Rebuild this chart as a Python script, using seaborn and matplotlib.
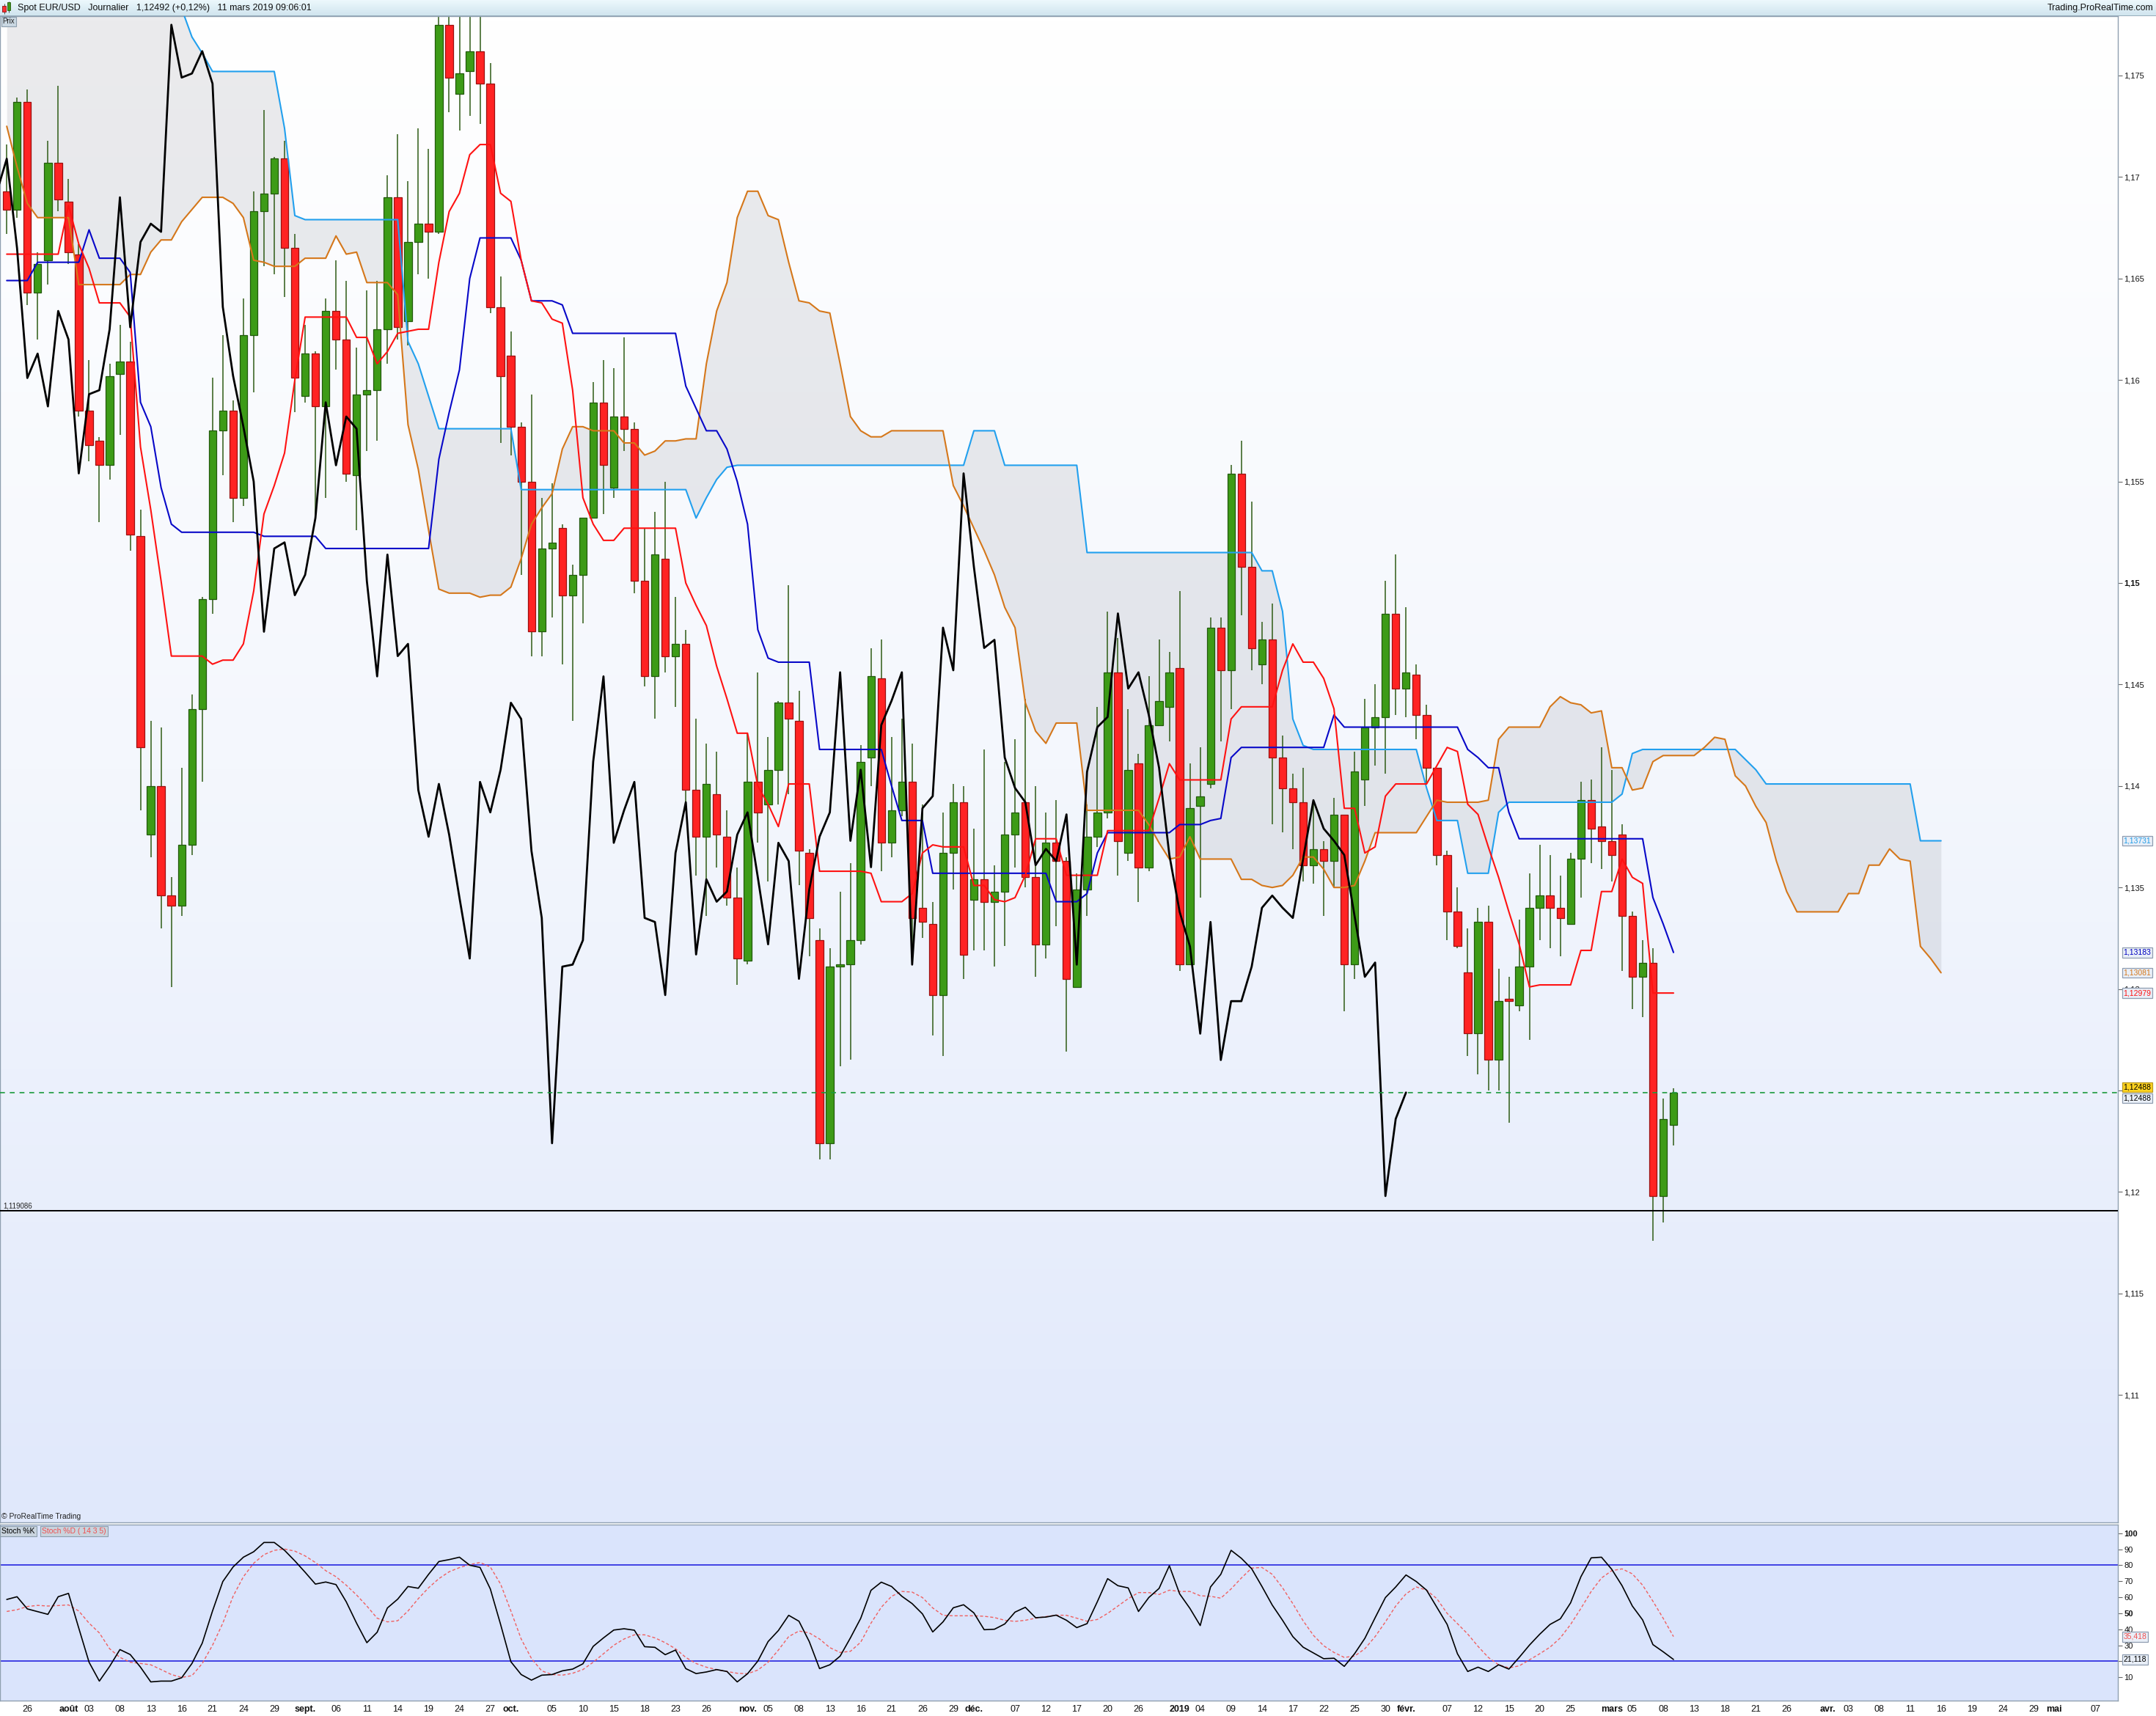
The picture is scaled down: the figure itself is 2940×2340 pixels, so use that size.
import numpy as np
import pandas as pd
import matplotlib
matplotlib.use('Agg')
import matplotlib.pyplot as plt
from matplotlib.colors import LinearSegmentedColormap
from matplotlib.transforms import blended_transform_factory
from matplotlib.patches import Rectangle
import seaborn as sns

sns.set_style('white')
plt.rcParams['font.family'] = ['Liberation Sans', 'DejaVu Sans']
plt.rcParams['axes.unicode_minus'] = False
NARROW = ['Liberation Sans Narrow', 'Liberation Sans', 'DejaVu Sans']

# ---------------- data (EUR/USD daily, 24 juil. 2018 -> 11 mars 2019) ----------------
opens = [
    1.1693, 1.1684, 1.1737, 1.1643, 1.1659, 1.1707, 1.1688, 1.1662, 1.1585, 1.1570,
    1.1558, 1.1603, 1.1609, 1.1523, 1.1376, 1.1400, 1.1346, 1.1341, 1.1371, 1.1438,
    1.1492, 1.1575, 1.1585, 1.1542, 1.1622, 1.1683, 1.1692, 1.1709, 1.1665, 1.1592,
    1.1613, 1.1587, 1.1634, 1.1620, 1.1553, 1.1593, 1.1595, 1.1625, 1.1690, 1.1629,
    1.1668, 1.1677, 1.1673, 1.1775, 1.1741, 1.1752, 1.1762, 1.1746, 1.1636, 1.1612,
    1.1577, 1.1550, 1.1476, 1.1517, 1.1527, 1.1494, 1.1504, 1.1532, 1.1589, 1.1547,
    1.1582, 1.1576, 1.1501, 1.1454, 1.1512, 1.1464, 1.1470, 1.1398, 1.1375, 1.1396,
    1.1375, 1.1345, 1.1314, 1.1402, 1.1391, 1.1408, 1.1441, 1.1432, 1.1367, 1.1324,
    1.1224, 1.1311, 1.1312, 1.1324, 1.1414, 1.1453, 1.1372, 1.1388, 1.1402, 1.1340,
    1.1332, 1.1297, 1.1367, 1.1392, 1.1344, 1.1354, 1.1343, 1.1348, 1.1376, 1.1392,
    1.1355, 1.1322, 1.1372, 1.1363, 1.1301, 1.1349, 1.1375, 1.1387, 1.1456, 1.1367,
    1.1411, 1.1360, 1.1430, 1.1439, 1.1458, 1.1312, 1.1390, 1.1401, 1.1478, 1.1457,
    1.1554, 1.1508, 1.1460, 1.1472, 1.1414, 1.1399, 1.1392, 1.1361, 1.1369, 1.1363,
    1.1386, 1.1312, 1.1403, 1.1429, 1.1434, 1.1485, 1.1448, 1.1455, 1.1435, 1.1409,
    1.1366, 1.1338, 1.1308, 1.1278, 1.1333, 1.1265, 1.1295, 1.1292, 1.1311, 1.1340,
    1.1346, 1.1340, 1.1332, 1.1364, 1.1393, 1.1380, 1.1373, 1.1376, 1.1336, 1.1306,
    1.1313, 1.1198, 1.1233]
highs = [
    1.1716, 1.1739, 1.1743, 1.1663, 1.1718, 1.1745, 1.1699, 1.1667, 1.1610, 1.1572,
    1.1608, 1.1627, 1.1619, 1.1536, 1.1432, 1.1429, 1.1355, 1.1409, 1.1445, 1.1493,
    1.1601, 1.1622, 1.1590, 1.1640, 1.1693, 1.1733, 1.1710, 1.1718, 1.1672, 1.1627,
    1.1614, 1.1640, 1.1659, 1.1649, 1.1616, 1.1644, 1.1649, 1.1701, 1.1721, 1.1698,
    1.1724, 1.1714, 1.1791, 1.1788, 1.1815, 1.1797, 1.1795, 1.1756, 1.1651, 1.1624,
    1.1579, 1.1593, 1.1542, 1.1549, 1.1529, 1.1509, 1.1532, 1.1599, 1.1610, 1.1606,
    1.1621, 1.1579, 1.1527, 1.1535, 1.1550, 1.1493, 1.1477, 1.1433, 1.1421, 1.1417,
    1.1388, 1.1360, 1.1426, 1.1456, 1.1424, 1.1442, 1.1499, 1.1447, 1.1369, 1.1330,
    1.1320, 1.1348, 1.1362, 1.1420, 1.1468, 1.1472, 1.1424, 1.1433, 1.1421, 1.1391,
    1.1343, 1.1387, 1.1401, 1.1400, 1.1379, 1.1418, 1.1361, 1.1412, 1.1423, 1.1443,
    1.1400, 1.1387, 1.1393, 1.1365, 1.1357, 1.1391, 1.1439, 1.1486, 1.1473, 1.1438,
    1.1416, 1.1454, 1.1472, 1.1466, 1.1496, 1.1411, 1.1419, 1.1483, 1.1483, 1.1558,
    1.1570, 1.1540, 1.1481, 1.1490, 1.1425, 1.1406, 1.1409, 1.1393, 1.1373, 1.1394,
    1.1386, 1.1417, 1.1443, 1.1450, 1.1501, 1.1514, 1.1488, 1.1460, 1.1440, 1.1409,
    1.1368, 1.1350, 1.1330, 1.1340, 1.1341, 1.1310, 1.1306, 1.1334, 1.1357, 1.1371,
    1.1366, 1.1356, 1.1367, 1.1402, 1.1403, 1.1419, 1.1408, 1.1381, 1.1338, 1.1324,
    1.1320, 1.1246, 1.1251]
lows = [
    1.1672, 1.1680, 1.1637, 1.1620, 1.1647, 1.1683, 1.1657, 1.1582, 1.1560, 1.1530,
    1.1551, 1.1573, 1.1516, 1.1388, 1.1365, 1.1330, 1.1301, 1.1336, 1.1366, 1.1402,
    1.1485, 1.1553, 1.1530, 1.1538, 1.1594, 1.1656, 1.1652, 1.1641, 1.1584, 1.1589,
    1.1532, 1.1542, 1.1605, 1.1550, 1.1526, 1.1565, 1.1570, 1.1608, 1.1620, 1.1617,
    1.1652, 1.1650, 1.1672, 1.1732, 1.1723, 1.1730, 1.1726, 1.1633, 1.1569, 1.1563,
    1.1504, 1.1464, 1.1464, 1.1483, 1.1460, 1.1432, 1.1480, 1.1532, 1.1534, 1.1542,
    1.1565, 1.1495, 1.1449, 1.1433, 1.1456, 1.1439, 1.1391, 1.1356, 1.1336, 1.1360,
    1.1341, 1.1302, 1.1312, 1.1372, 1.1353, 1.1391, 1.1396, 1.1351, 1.1316, 1.1216,
    1.1216, 1.1262, 1.1265, 1.1322, 1.1400, 1.1358, 1.1365, 1.1385, 1.1312, 1.1325,
    1.1277, 1.1267, 1.1349, 1.1305, 1.1319, 1.1319, 1.1311, 1.1321, 1.1360, 1.1350,
    1.1306, 1.1315, 1.1331, 1.1269, 1.1301, 1.1336, 1.1370, 1.1384, 1.1356, 1.1363,
    1.1343, 1.1358, 1.1430, 1.1422, 1.1309, 1.1312, 1.1345, 1.1399, 1.1422, 1.1438,
    1.1484, 1.1457, 1.1450, 1.1381, 1.1377, 1.1369, 1.1353, 1.1352, 1.1336, 1.1350,
    1.1289, 1.1305, 1.1390, 1.1410, 1.1406, 1.1435, 1.1434, 1.1423, 1.1401, 1.1361,
    1.1324, 1.1320, 1.1267, 1.1258, 1.1250, 1.1250, 1.1234, 1.1289, 1.1275, 1.1324,
    1.1320, 1.1316, 1.1332, 1.1345, 1.1362, 1.1359, 1.1353, 1.1309, 1.1290, 1.1286,
    1.1176, 1.1185, 1.1223]
closes = [
    1.1684, 1.1737, 1.1643, 1.1657, 1.1707, 1.1689, 1.1663, 1.1585, 1.1568, 1.1558,
    1.1602, 1.1609, 1.1524, 1.1419, 1.1400, 1.1346, 1.1341, 1.1371, 1.1438, 1.1492,
    1.1575, 1.1585, 1.1542, 1.1622, 1.1683, 1.1692, 1.1709, 1.1665, 1.1601, 1.1613,
    1.1587, 1.1634, 1.1620, 1.1554, 1.1593, 1.1595, 1.1625, 1.1690, 1.1626, 1.1668,
    1.1677, 1.1673, 1.1775, 1.1749, 1.1751, 1.1762, 1.1746, 1.1636, 1.1602, 1.1577,
    1.1550, 1.1476, 1.1517, 1.1520, 1.1494, 1.1504, 1.1532, 1.1589, 1.1558, 1.1582,
    1.1576, 1.1501, 1.1454, 1.1514, 1.1464, 1.1470, 1.1398, 1.1375, 1.1401, 1.1376,
    1.1345, 1.1315, 1.1402, 1.1387, 1.1408, 1.1441, 1.1433, 1.1368, 1.1335, 1.1224,
    1.1311, 1.1312, 1.1324, 1.1412, 1.1454, 1.1372, 1.1388, 1.1402, 1.1335, 1.1333,
    1.1297, 1.1367, 1.1392, 1.1317, 1.1354, 1.1343, 1.1348, 1.1376, 1.1387, 1.1355,
    1.1322, 1.1372, 1.1363, 1.1305, 1.1349, 1.1375, 1.1387, 1.1456, 1.1373, 1.1408,
    1.1360, 1.1430, 1.1442, 1.1456, 1.1312, 1.1389, 1.1395, 1.1478, 1.1457, 1.1554,
    1.1508, 1.1468, 1.1472, 1.1414, 1.1399, 1.1392, 1.1361, 1.1369, 1.1363, 1.1386,
    1.1312, 1.1407, 1.1429, 1.1434, 1.1485, 1.1448, 1.1456, 1.1435, 1.1409, 1.1366,
    1.1338, 1.1321, 1.1278, 1.1333, 1.1265, 1.1294, 1.1294, 1.1311, 1.1340, 1.1346,
    1.1340, 1.1335, 1.1364, 1.1393, 1.1379, 1.1373, 1.1366, 1.1336, 1.1306, 1.1313,
    1.1198, 1.1236, 1.1249]

tenkan = [
    1.1662, 1.1662, 1.1662, 1.1662, 1.1662, 1.1662, 1.1686, 1.1667, 1.1655, 1.1638,
    1.1638, 1.1638, 1.1631, 1.1567, 1.1536, 1.1501, 1.1464, 1.1464, 1.1464, 1.1464,
    1.1460, 1.1462, 1.1462, 1.1470, 1.1496, 1.1534, 1.1548, 1.1564, 1.1600, 1.1631,
    1.1631, 1.1631, 1.1631, 1.1631, 1.1621, 1.1621, 1.1608, 1.1614, 1.1623, 1.1624,
    1.1625, 1.1625, 1.1658, 1.1683, 1.1692, 1.1711, 1.1716, 1.1716, 1.1692, 1.1688,
    1.1659, 1.1639, 1.1638, 1.1630, 1.1628, 1.1595, 1.1542, 1.1529, 1.1521, 1.1521,
    1.1527, 1.1527, 1.1527, 1.1527, 1.1527, 1.1527, 1.1500, 1.1489, 1.1479, 1.1459,
    1.1443, 1.1426, 1.1426, 1.1400, 1.1391, 1.1380, 1.1401, 1.1401, 1.1401, 1.1358,
    1.1358, 1.1358, 1.1358, 1.1358, 1.1357, 1.1343, 1.1343, 1.1343, 1.1347, 1.1367,
    1.1371, 1.1370, 1.1370, 1.1370, 1.1351, 1.1351, 1.1344, 1.1343, 1.1345, 1.1356,
    1.1374, 1.1374, 1.1374, 1.1356, 1.1356, 1.1356, 1.1356, 1.1378, 1.1378, 1.1378,
    1.1378, 1.1378, 1.1394, 1.1411, 1.1403, 1.1403, 1.1403, 1.1403, 1.1403, 1.1433,
    1.1439, 1.1439, 1.1439, 1.1439, 1.1457, 1.1470, 1.1461, 1.1461, 1.1453, 1.1438,
    1.1389, 1.1389, 1.1367, 1.1370, 1.1395, 1.1401, 1.1401, 1.1401, 1.1401, 1.1410,
    1.1419, 1.1417, 1.1391, 1.1386, 1.1370, 1.1355, 1.1338, 1.1322, 1.1301, 1.1302,
    1.1302, 1.1302, 1.1302, 1.1319, 1.1319, 1.1348, 1.1348, 1.1364, 1.1355, 1.1352,
    1.1298, 1.1298, 1.1298]
kijun = [
    1.1649, 1.1649, 1.1649, 1.1658, 1.1658, 1.1658, 1.1658, 1.1658, 1.1674, 1.1660,
    1.1660, 1.1660, 1.1653, 1.1589, 1.1577, 1.1547, 1.1529, 1.1525, 1.1525, 1.1525,
    1.1525, 1.1525, 1.1525, 1.1525, 1.1525, 1.1523, 1.1523, 1.1523, 1.1523, 1.1523,
    1.1523, 1.1517, 1.1517, 1.1517, 1.1517, 1.1517, 1.1517, 1.1517, 1.1517, 1.1517,
    1.1517, 1.1517, 1.1561, 1.1584, 1.1605, 1.1650, 1.1670, 1.1670, 1.1670, 1.1670,
    1.1659, 1.1639, 1.1639, 1.1639, 1.1637, 1.1623, 1.1623, 1.1623, 1.1623, 1.1623,
    1.1623, 1.1623, 1.1623, 1.1623, 1.1623, 1.1623, 1.1597, 1.1586, 1.1575, 1.1575,
    1.1566, 1.1550, 1.1529, 1.1477, 1.1463, 1.1461, 1.1461, 1.1461, 1.1461, 1.1418,
    1.1418, 1.1418, 1.1418, 1.1418, 1.1418, 1.1418, 1.1400, 1.1383, 1.1383, 1.1383,
    1.1357, 1.1357, 1.1357, 1.1357, 1.1357, 1.1357, 1.1357, 1.1357, 1.1357, 1.1357,
    1.1357, 1.1357, 1.1343, 1.1343, 1.1343, 1.1347, 1.1367, 1.1377, 1.1377, 1.1377,
    1.1377, 1.1377, 1.1377, 1.1377, 1.1381, 1.1381, 1.1381, 1.1383, 1.1384, 1.1414,
    1.1419, 1.1419, 1.1419, 1.1419, 1.1419, 1.1419, 1.1419, 1.1419, 1.1419, 1.1435,
    1.1429, 1.1429, 1.1429, 1.1429, 1.1429, 1.1429, 1.1429, 1.1429, 1.1429, 1.1429,
    1.1429, 1.1429, 1.1418, 1.1414, 1.1409, 1.1409, 1.1387, 1.1374, 1.1374, 1.1374,
    1.1374, 1.1374, 1.1374, 1.1374, 1.1374, 1.1374, 1.1374, 1.1374, 1.1374, 1.1374,
    1.1345, 1.1332, 1.1318]
# nuage : 26 barres de plus que les bougies
senkou_a = [
    1.1725, 1.1705, 1.1687, 1.1680, 1.1680, 1.1680, 1.1680, 1.1647, 1.1647, 1.1647,
    1.1647, 1.1647, 1.1652, 1.1652, 1.1663, 1.1669, 1.1669, 1.1678, 1.1684, 1.1690,
    1.1690, 1.1690, 1.1687, 1.1680, 1.1659, 1.1658, 1.1656, 1.1656, 1.1656, 1.1660,
    1.1660, 1.1660, 1.1671, 1.1662, 1.1663, 1.1648, 1.1648, 1.1648, 1.1642, 1.1578,
    1.1556, 1.1526, 1.1497, 1.1495, 1.1495, 1.1495, 1.1493, 1.1494, 1.1494, 1.1498,
    1.1512, 1.1529, 1.1537, 1.1544, 1.1566, 1.1577, 1.1577, 1.1575, 1.1575, 1.1575,
    1.1569, 1.1569, 1.1563, 1.1565, 1.1570, 1.1570, 1.1571, 1.1571, 1.1608, 1.1634,
    1.1648, 1.1680, 1.1693, 1.1693, 1.1681, 1.1679, 1.1658, 1.1639, 1.1638, 1.1634,
    1.1633, 1.1608, 1.1582, 1.1575, 1.1572, 1.1572, 1.1575, 1.1575, 1.1575, 1.1575,
    1.1575, 1.1575, 1.1548, 1.1538, 1.1527, 1.1516, 1.1504, 1.1488, 1.1478, 1.1441,
    1.1427, 1.1421, 1.1431, 1.1431, 1.1431, 1.1388, 1.1388, 1.1388, 1.1388, 1.1388,
    1.1388, 1.1381, 1.1372, 1.1364, 1.1365, 1.1375, 1.1364, 1.1364, 1.1364, 1.1364,
    1.1354, 1.1354, 1.1351, 1.1350, 1.1351, 1.1356, 1.1365, 1.1365, 1.1359, 1.1350,
    1.1350, 1.1351, 1.1363, 1.1377, 1.1377, 1.1377, 1.1377, 1.1377, 1.1385, 1.1393,
    1.1392, 1.1392, 1.1392, 1.1392, 1.1393, 1.1423, 1.1429, 1.1429, 1.1429, 1.1429,
    1.1439, 1.1444, 1.1441, 1.1440, 1.1436, 1.1437, 1.1409, 1.1409, 1.1398, 1.1399,
    1.1412, 1.1415, 1.1415, 1.1415, 1.1415, 1.1419, 1.1424, 1.1423, 1.1405, 1.1400,
    1.1390, 1.1382, 1.1363, 1.1348, 1.1338, 1.1338, 1.1338, 1.1338, 1.1338, 1.1347,
    1.1347, 1.1361, 1.1361, 1.1369, 1.1364, 1.1363, 1.1321, 1.1315, 1.1308]
senkou_b = [
    1.1800, 1.1800, 1.1800, 1.1800, 1.1800, 1.1800, 1.1800, 1.1800, 1.1800, 1.1800,
    1.1800, 1.1800, 1.1800, 1.1800, 1.1800, 1.1800, 1.1792, 1.1783, 1.1769, 1.1761,
    1.1752, 1.1752, 1.1752, 1.1752, 1.1752, 1.1752, 1.1752, 1.1724, 1.1681, 1.1679,
    1.1679, 1.1679, 1.1679, 1.1679, 1.1679, 1.1679, 1.1679, 1.1679, 1.1679, 1.1619,
    1.1608, 1.1592, 1.1576, 1.1576, 1.1576, 1.1576, 1.1576, 1.1576, 1.1576, 1.1576,
    1.1546, 1.1546, 1.1546, 1.1546, 1.1546, 1.1546, 1.1546, 1.1546, 1.1546, 1.1546,
    1.1546, 1.1546, 1.1546, 1.1546, 1.1546, 1.1546, 1.1546, 1.1532, 1.1542, 1.1551,
    1.1557, 1.1558, 1.1558, 1.1558, 1.1558, 1.1558, 1.1558, 1.1558, 1.1558, 1.1558,
    1.1558, 1.1558, 1.1558, 1.1558, 1.1558, 1.1558, 1.1558, 1.1558, 1.1558, 1.1558,
    1.1558, 1.1558, 1.1558, 1.1558, 1.1575, 1.1575, 1.1575, 1.1558, 1.1558, 1.1558,
    1.1558, 1.1558, 1.1558, 1.1558, 1.1558, 1.1515, 1.1515, 1.1515, 1.1515, 1.1515,
    1.1515, 1.1515, 1.1515, 1.1515, 1.1515, 1.1515, 1.1515, 1.1515, 1.1515, 1.1515,
    1.1515, 1.1515, 1.1506, 1.1506, 1.1486, 1.1433, 1.1420, 1.1418, 1.1418, 1.1418,
    1.1418, 1.1418, 1.1418, 1.1418, 1.1418, 1.1418, 1.1418, 1.1418, 1.1399, 1.1383,
    1.1383, 1.1383, 1.1357, 1.1357, 1.1357, 1.1387, 1.1392, 1.1392, 1.1392, 1.1392,
    1.1392, 1.1392, 1.1392, 1.1392, 1.1392, 1.1392, 1.1392, 1.1396, 1.1416, 1.1418,
    1.1418, 1.1418, 1.1418, 1.1418, 1.1418, 1.1418, 1.1418, 1.1418, 1.1418, 1.1413,
    1.1408, 1.1401, 1.1401, 1.1401, 1.1401, 1.1401, 1.1401, 1.1401, 1.1401, 1.1401,
    1.1401, 1.1401, 1.1401, 1.1401, 1.1401, 1.1401, 1.1373, 1.1373, 1.1373]

stoch_k = [
    58.6, 60.3, 52.7, 51.0, 49.3, 60.3, 62.4, 40.7, 19.4, 7.6,
    16.8, 27.3, 24.2, 16.3, 7.1, 7.6, 7.6, 9.7, 18.6, 31.3,
    51.4, 69.8, 78.9, 85.0, 88.4, 94.2, 94.2, 89.3, 82.7, 75.6,
    68.2, 69.5, 67.9, 57.1, 43.8, 31.6, 38.1, 53.3, 58.8, 66.7,
    65.6, 74.3, 82.3, 83.5, 85.0, 80.0, 78.6, 65.2, 43.0, 19.7,
    11.7, 8.2, 11.3, 11.7, 14.0, 15.1, 18.4, 29.3, 34.6, 39.5,
    40.3, 39.4, 29.1, 28.7, 24.1, 27.0, 15.4, 12.3, 13.3, 14.8,
    13.6, 7.1, 12.2, 20.1, 32.3, 39.2, 48.7, 45.0, 32.3, 15.4,
    17.8, 23.2, 34.6, 46.8, 64.3, 69.4, 66.7, 60.6, 56.0, 49.6,
    38.3, 44.6, 53.4, 55.3, 50.2, 39.7, 40.0, 43.3, 50.7, 53.7,
    47.2, 47.6, 48.8, 45.6, 41.0, 43.5, 57.2, 71.6, 67.2, 65.8,
    51.1, 59.8, 65.5, 79.7, 62.1, 53.0, 42.3, 66.4, 74.3, 89.3,
    84.3, 77.8, 66.7, 55.1, 45.6, 35.4, 28.8, 25.2, 21.6, 21.9,
    16.8, 24.7, 34.3, 47.2, 59.8, 66.4, 73.9, 69.8, 64.4, 53.7,
    43.0, 24.7, 13.6, 16.3, 13.6, 17.8, 15.1, 22.4, 30.1, 36.9,
    43.0, 46.5, 56.5, 72.8, 84.6, 85.0, 77.4, 67.2, 54.5, 45.8,
    30.4, 25.9, 21.118]
stoch_d = [
    51.1, 52.2, 54.2, 54.9, 54.5, 54.8, 55.2, 51.4, 43.8, 37.7,
    27.8, 22.4, 19.4, 18.6, 17.8, 14.8, 11.7, 9.9, 11.0, 18.6,
    30.0, 43.8, 60.6, 72.8, 81.2, 86.6, 89.3, 90.1, 88.8, 85.8,
    81.7, 76.6, 72.8, 67.5, 61.4, 54.5, 46.9, 44.6, 45.3, 51.4,
    59.1, 65.9, 71.6, 75.9, 78.5, 80.4, 81.7, 78.9, 68.2, 51.4,
    33.9, 21.7, 14.0, 11.7, 11.3, 12.5, 14.8, 19.4, 24.7, 30.0,
    33.9, 36.5, 36.5, 34.6, 31.6, 27.8, 22.4, 18.6, 16.3, 14.8,
    13.6, 12.5, 12.2, 14.5, 19.4, 27.0, 35.4, 38.9, 37.7, 33.9,
    28.5, 25.5, 26.2, 31.9, 43.8, 53.7, 60.6, 63.6, 63.2, 59.8,
    53.3, 48.7, 48.4, 48.4, 48.4, 48.1, 47.3, 45.6, 44.9, 45.6,
    46.9, 47.9, 48.8, 48.7, 46.9, 45.0, 46.1, 49.9, 54.5, 59.1,
    62.9, 62.9, 61.7, 64.4, 63.6, 63.6, 60.9, 60.6, 59.4, 65.2,
    72.0, 78.2, 78.6, 74.3, 65.9, 56.0, 45.3, 36.2, 29.7, 25.5,
    22.4, 23.2, 27.8, 35.4, 44.6, 54.5, 62.1, 66.4, 64.4, 59.1,
    49.9, 43.5, 37.0, 29.3, 22.4, 17.8, 15.9, 17.1, 20.9, 24.7,
    28.8, 34.6, 43.0, 53.0, 63.6, 72.0, 76.6, 77.7, 74.6, 67.5,
    57.5, 46.8, 35.418]

price_ticks = [1.11, 1.115, 1.12, 1.125, 1.13, 1.135, 1.14, 1.145, 1.15, 1.155,
               1.16, 1.165, 1.17, 1.175]
hidden_price_labels = {'1,125'}          # covered by the price tags in the reference
stoch_ticks = [10, 20, 30, 40, 50, 60, 70, 80, 90, 100]
hidden_stoch_labels = {'20'}
tick_dates = ['2018-07-26', '2018-08-01', '2018-08-03', '2018-08-08', '2018-08-13', '2018-08-16',
              '2018-08-21', '2018-08-24', '2018-08-29', '2018-09-03', '2018-09-06', '2018-09-11',
              '2018-09-14', '2018-09-19', '2018-09-24', '2018-09-27', '2018-10-01', '2018-10-05',
              '2018-10-10', '2018-10-15', '2018-10-18', '2018-10-23', '2018-10-26', '2018-11-01',
              '2018-11-05', '2018-11-08', '2018-11-13', '2018-11-16', '2018-11-21', '2018-11-26',
              '2018-11-29', '2018-12-03', '2018-12-07', '2018-12-12', '2018-12-17', '2018-12-20',
              '2018-12-26', '2019-01-02', '2019-01-04', '2019-01-09', '2019-01-14', '2019-01-17',
              '2019-01-22', '2019-01-25', '2019-01-30', '2019-02-01', '2019-02-07', '2019-02-12',
              '2019-02-15', '2019-02-20', '2019-02-25', '2019-03-01', '2019-03-05', '2019-03-08',
              '2019-03-13', '2019-03-18', '2019-03-21', '2019-03-26', '2019-04-01', '2019-04-03',
              '2019-04-08', '2019-04-11', '2019-04-16', '2019-04-19', '2019-04-24', '2019-04-29',
              '2019-05-01', '2019-05-07']
tick_labels = ['26', 'août', '03', '08', '13', '16', '21', '24', '29', 'sept.', '06', '11',
               '14', '19', '24', '27', 'oct.', '05', '10', '15', '18', '23', '26', 'nov.',
               '05', '08', '13', '16', '21', '26', '29', 'déc.', '07', '12', '17', '20',
               '26', '2019', '04', '09', '14', '17', '22', '25', '30', 'févr.', '07', '12',
               '15', '20', '25', 'mars', '05', '08', '13', '18', '21', '26', 'avr.', '03',
               '08', '11', '16', '19', '24', '29', 'mai', '07']
bold_labels = {'août', 'sept.', 'oct.', 'nov.', 'déc.', '2019', 'févr.', 'mars', 'avr.', 'mai'}

# axe des temps : jours ouvres forex (sans 25 dec. et 1er janv.)
days = pd.bdate_range('2018-07-24', '2019-05-20')
days = days[~days.isin(pd.to_datetime(['2018-12-25', '2019-01-01']))]
tick_pos = [days.get_loc(pd.Timestamp(d)) for d in tick_dates]

x = np.arange(len(closes))
xc = np.arange(len(senkou_a))
o, h, l, c = map(np.array, (opens, highs, lows, closes))

XMIN, XMAX = -0.656, 205.19
YMIN, YMAX = 1.103721, 1.177926
SMIN, SMAX = -4.58, 105.36

fig = plt.figure(figsize=(29.4, 23.4), dpi=100)
fig.patch.set_facecolor('white')
ax = fig.add_axes([0, 0.112821, 0.982313, 0.877778])
axs = fig.add_axes([0, 0.008974, 0.982313, 0.102564])
hdr = fig.add_axes([0, 0.990598, 1, 0.009402])

# ---------------- price panel ----------------
grad = np.linspace(0, 1, 256).reshape(-1, 1)
bg = LinearSegmentedColormap.from_list('bg', ['#e0e8fb', '#f4f7fd', '#ffffff'])
ax.imshow(grad, extent=[XMIN, XMAX, YMIN, YMAX], origin='lower', aspect='auto', cmap=bg, zorder=0)

ax.fill_between(xc, senkou_a, senkou_b, color='#8a8c96', alpha=0.17, lw=0, zorder=1)

up = c >= o
body_lo = np.minimum(o, c)
body_h = np.maximum(np.abs(c - o), 0.00005)
ax.vlines(x, l, h, color='#2f5c16', lw=1.1, zorder=2)
ax.bar(x[up], body_h[up], bottom=body_lo[up], width=0.74, color='#3d9b17',
       edgecolor='#225a0c', linewidth=0.9, zorder=3)
ax.bar(x[~up], body_h[~up], bottom=body_lo[~up], width=0.74, color='#ff2323',
       edgecolor='#9c1010', linewidth=0.9, zorder=3)

cloud = pd.DataFrame({'x': xc, 'a': senkou_a, 'b': senkou_b})
ichi = pd.DataFrame({'x': x, 'tenkan': tenkan, 'kijun': kijun})
lag = pd.DataFrame({'x': x[25:] - 26, 'close': c[25:]})
sns.lineplot(data=cloud, x='x', y='b', color='#22a0ee', linewidth=1.5, ax=ax, zorder=4)
sns.lineplot(data=cloud, x='x', y='a', color='#d5771a', linewidth=1.5, ax=ax, zorder=4)
sns.lineplot(data=ichi, x='x', y='kijun', color='#0808c8', linewidth=1.5, ax=ax, zorder=5)
sns.lineplot(data=ichi, x='x', y='tenkan', color='#ff1212', linewidth=1.5, ax=ax, zorder=5)
sns.lineplot(data=lag, x='x', y='close', color='black', linewidth=2.0, ax=ax, zorder=6)

last = closes[-1]
support = 1.119086
ax.axhline(last, color='#1b9a3c', lw=1.2, ls=(0, (4, 4)), zorder=6)
ax.axhline(support, color='black', lw=1.4, zorder=6)

ax.set_xlim(XMIN, XMAX)
ax.set_ylim(YMIN, YMAX)
ax.set_xlabel('')
ax.set_ylabel('')
ax.set_xticks([])
ax.yaxis.tick_right()
ax.set_yticks(price_ticks)
plabels = [('%.3f' % v).rstrip('0').replace('.', ',') for v in price_ticks]
ax.set_yticklabels(['' if s in hidden_price_labels else s for s in plabels])
ax.tick_params(axis='y', direction='out', length=4, width=0.8, color='#666666', pad=2,
               labelsize=8, labelcolor='#111111')
for lab in ax.get_yticklabels():
    if lab.get_text() == '1,15':
        lab.set_fontweight('bold')
for s in ax.spines.values():
    s.set_color('#8fa0b0')
    s.set_linewidth(1.0)

tr = blended_transform_factory(ax.transAxes, ax.transData)


def tag(a, trans, y, s, tc, fc='#e9eff8', ec='#8e9cb0'):
    a.text(1.0026, y, s, transform=trans, ha='left', va='center', fontsize=7.5, color=tc,
           bbox=dict(boxstyle='square,pad=0.18', fc=fc, ec=ec, lw=0.9), zorder=10, clip_on=False)


tag(ax, tr, senkou_b[-1], '1,13731', '#1e9be6')
tag(ax, tr, kijun[-1], '1,13183', '#0000c0')
tag(ax, tr, senkou_a[-1], '1,13081', '#d5771a')
tag(ax, tr, tenkan[-1], '1,12979', '#ff1212')
tag(ax, tr, last + 0.00026, '1,12488', 'black', fc='#ffd31f', ec='#b89a20')
tag(ax, tr, last - 0.00028, '1,12488', 'black')

ax.text(0.0015, support + 0.00005, '1,119086', transform=tr, ha='left', va='bottom', fontsize=7,
        color='#222222', zorder=8)
ax.text(0.0012, 0.9988, 'Prix', transform=ax.transAxes, ha='left', va='top', fontsize=7,
        color='#222222', zorder=9,
        bbox=dict(boxstyle='square,pad=0.2', fc='#cad8e2', ec='#8d9fae', lw=0.8))
fig.text(0.0008, 1 - 2068 / 2340, '© ProRealTime Trading', ha='left', va='center',
         fontsize=7.5, color='#222222', family=NARROW)

# ---------------- stochastic panel ----------------
axs.set_facecolor('#dae4fc')
axs.axhline(80, color='#2626e0', lw=1.2, zorder=2)
axs.axhline(20, color='#2626e0', lw=1.2, zorder=2)
sto = pd.DataFrame({'x': x, 'k': stoch_k, 'd': stoch_d})
sns.lineplot(data=sto, x='x', y='d', color='#f06060', linewidth=1.0, linestyle=(0, (3, 2)),
             ax=axs, zorder=3)
sns.lineplot(data=sto, x='x', y='k', color='black', linewidth=1.2, ax=axs, zorder=4)
axs.set_xlim(XMIN, XMAX)
axs.set_ylim(SMIN, SMAX)
axs.set_xlabel('')
axs.set_ylabel('')
axs.yaxis.tick_right()
axs.set_yticks(stoch_ticks)
axs.set_yticklabels(['' if str(v) in hidden_stoch_labels else str(v) for v in stoch_ticks])
axs.tick_params(axis='y', direction='out', length=4, width=0.8, color='#666666', pad=2,
                labelsize=8, labelcolor='#111111')
for lab in axs.get_yticklabels():
    if lab.get_text() in ('100', '50'):
        lab.set_fontweight('bold')
axs.set_xticks(tick_pos)
axs.set_xticklabels(tick_labels, family=NARROW)
axs.tick_params(axis='x', direction='out', length=3, width=0.8, color='#666666', pad=1.5,
                labelsize=9, labelcolor='#111111')
for lab in axs.get_xticklabels():
    if lab.get_text() in bold_labels:
        lab.set_fontweight('bold')
for s in axs.spines.values():
    s.set_color('#8fa0b0')
    s.set_linewidth(1.0)

trs = blended_transform_factory(axs.transAxes, axs.transData)
tag(axs, trs, stoch_d[-1], '35,418', '#f05050')
tag(axs, trs, stoch_k[-1], '21,118', 'black')

axs.text(0.0008, 0.985, 'Stoch %K', transform=axs.transAxes, ha='left', va='top', fontsize=7.5,
         color='black', family=NARROW, zorder=9,
         bbox=dict(boxstyle='square,pad=0.2', fc='#c9d4de', ec='#8d9fae', lw=0.8))
axs.text(0.0198, 0.985, 'Stoch %D ( 14 3 5)', transform=axs.transAxes, ha='left', va='top',
         fontsize=7.5, color='#f05050', family=NARROW, zorder=9,
         bbox=dict(boxstyle='square,pad=0.2', fc='#c9d4de', ec='#8d9fae', lw=0.8))

# ---------------- header ----------------
hdr.set_xlim(0, 2940)
hdr.set_ylim(22, 0)
hcm = LinearSegmentedColormap.from_list('hd', ['#eef9fd', '#cfe4ee'])
hdr.imshow(np.linspace(0, 1, 40).reshape(-1, 1), extent=[0, 2940, 22, 0], origin='upper',
           aspect='auto', cmap=hcm, zorder=0)
hdr.axhline(21.5, color='#8ea2b2', lw=1.2)
hdr.add_patch(Rectangle((3.5, 8), 4.5, 8, fc='#ff3030', ec='#8a1010', lw=0.6, zorder=2))
hdr.vlines(5.75, 5, 19, color='#333333', lw=0.6, zorder=1)
hdr.add_patch(Rectangle((10, 3), 4.5, 11, fc='#3d9b17', ec='#225a0c', lw=0.6, zorder=2))
hdr.vlines(12.25, 1.5, 17, color='#333333', lw=0.6, zorder=1)
hdr.text(24, 11, 'Spot EUR/USD   Journalier   1,12492 (+0,12%)   11 mars 2019 09:06:01',
         ha='left', va='center', fontsize=9, color='#111111', family=NARROW)
hdr.text(2936, 11, 'Trading.ProRealTime.com', ha='right', va='center', fontsize=9,
         color='#111111', family=NARROW)
hdr.axis('off')

fig.savefig('out.png', dpi=100, facecolor='white')
